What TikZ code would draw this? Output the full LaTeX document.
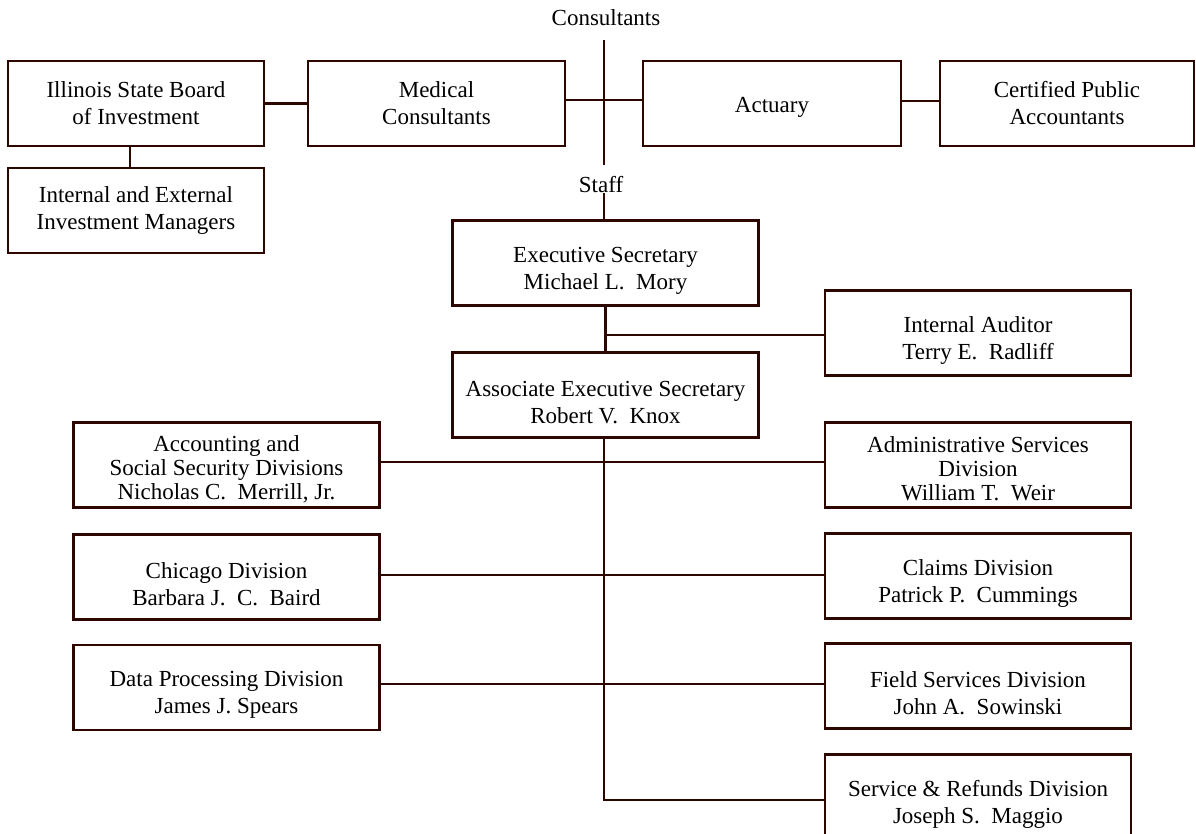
\documentclass[tikz,border=0pt]{standalone}
\usepackage{fontspec}
\setmainfont{Liberation Serif}
\definecolor{brd}{RGB}{45,6,0}
\newcommand\dnstrut{\rule{0pt}{30pt}}
\newcommand\dnstrutb{\rule{0pt}{24pt}}
\begin{document}
\begin{tikzpicture}[x=1pt,y=-1pt,
  box/.style={draw=brd,line width=2.9pt,minimum height=85pt,inner sep=0pt,
    align=center,font=\fontsize{23}{27}\selectfont,text=black},
  wbox/.style={box,minimum width=256pt},
  lbox/.style={box,minimum width=306pt},
  tbox/.style={lbox,font=\fontsize{23}{24}\selectfont},
  link/.style={draw=brd,line width=2.6pt},
  lab/.style={font=\fontsize{23}{27}\selectfont,inner sep=0pt}]
\useasboundingbox[fill=white] (0,0) rectangle (1196,834);
\begin{scope}
\clip (0,0) rectangle (1196,834);
% top row
\node[wbox] (isbi) at (136,103.5) {Illinois State Board\\of Investment};
\node[wbox,minimum width=257pt] (med) at (436.5,103.5) {Medical\\Consultants};
\node[wbox,minimum width=258pt] (act) at (772,103.5) {\rule{0pt}{23pt}Actuary};
\node[wbox,minimum width=254pt] (cpa) at (1067,103.5) {Certified Public\\Accountants};
\node[wbox] (iem) at (136,210.5) {Internal and External\\Investment Managers};
% labels
\node[lab] (cons) at (606,18) {Consultants};
\node[lab] (staff) at (601,185) {Staff};
\coordinate (ctop) at (604,40);
\coordinate (cbot) at (604,165);
\coordinate (stop) at (604,193);
% staff chain
\node[lbox] (exec) at (605.5,263) {\dnstrut Executive Secretary\\Michael L.\ \ Mory};
\node[lbox] (aud) at (978,333) {\dnstrut Internal Auditor\\Terry E.\ \ Radliff};
\node[lbox] (assoc) at (605.5,395) {\dnstrut Associate Executive Secretary\\Robert V.\ \ Knox};
% divisions
\node[tbox] (acc) at (226.5,465) {\dnstrutb Accounting and\\Social Security Divisions\\Nicholas C.\ \ Merrill, Jr.};
\node[tbox] (adm) at (978,465) {\dnstrutb Administrative Services\\Division\\William T.\ \ Weir};
\node[lbox] (chi) at (226.5,577) {\dnstrut Chicago Division\\Barbara J.\ \ C.\ \ Baird};
\node[lbox] (clm) at (978,576) {\dnstrut Claims Division\\Patrick P.\ \ Cummings};
\node[lbox] (dp) at (226.5,687.5) {\dnstrut Data Processing Division\\James J. Spears};
\node[lbox] (fld) at (978,686) {\dnstrut Field Services Division\\John A.\ \ Sowinski};
\node[lbox] (svc) at (978,797) {\dnstrut Service \& Refunds Division\\Joseph S.\ \ Maggio};
% connectors
\draw[link] (isbi.east) -- (isbi.east -| med.west);
\draw[link] ([yshift=3.5pt]med.east) -- ([yshift=3.5pt]med.east -| act.west);
\draw[link] ([yshift=2.5pt]act.east) -- ([yshift=2.5pt]act.east -| cpa.west);
\draw[link] (ctop) -- (cbot);
\coordinate (isbib) at (130,146);
\coordinate (iemt) at (130,168);
\draw[link] (isbib) -- (iemt);
\draw[link] (stop) -- (stop |- exec.north);
\draw[link] (exec.south) -- (assoc.north);
\draw[link] ([yshift=-2pt]exec.south |- aud.west) -- ([yshift=-2pt]aud.west);
\draw[link] ([xshift=-1.5pt]assoc.south) -- ([xshift=-1.5pt]assoc.south |- 0,800) -- (svc.west |- 0,800);
\draw[link] ([yshift=3pt]acc.east) -- ([yshift=3pt]acc.east -| adm.west);
\draw[link] ([yshift=2pt]chi.east) -- ([yshift=2pt]chi.east -| clm.west);
\draw[link] ([yshift=3.5pt]dp.east) -- ([yshift=3.5pt]dp.east -| fld.west);
\end{scope}
\end{tikzpicture}
\end{document}
